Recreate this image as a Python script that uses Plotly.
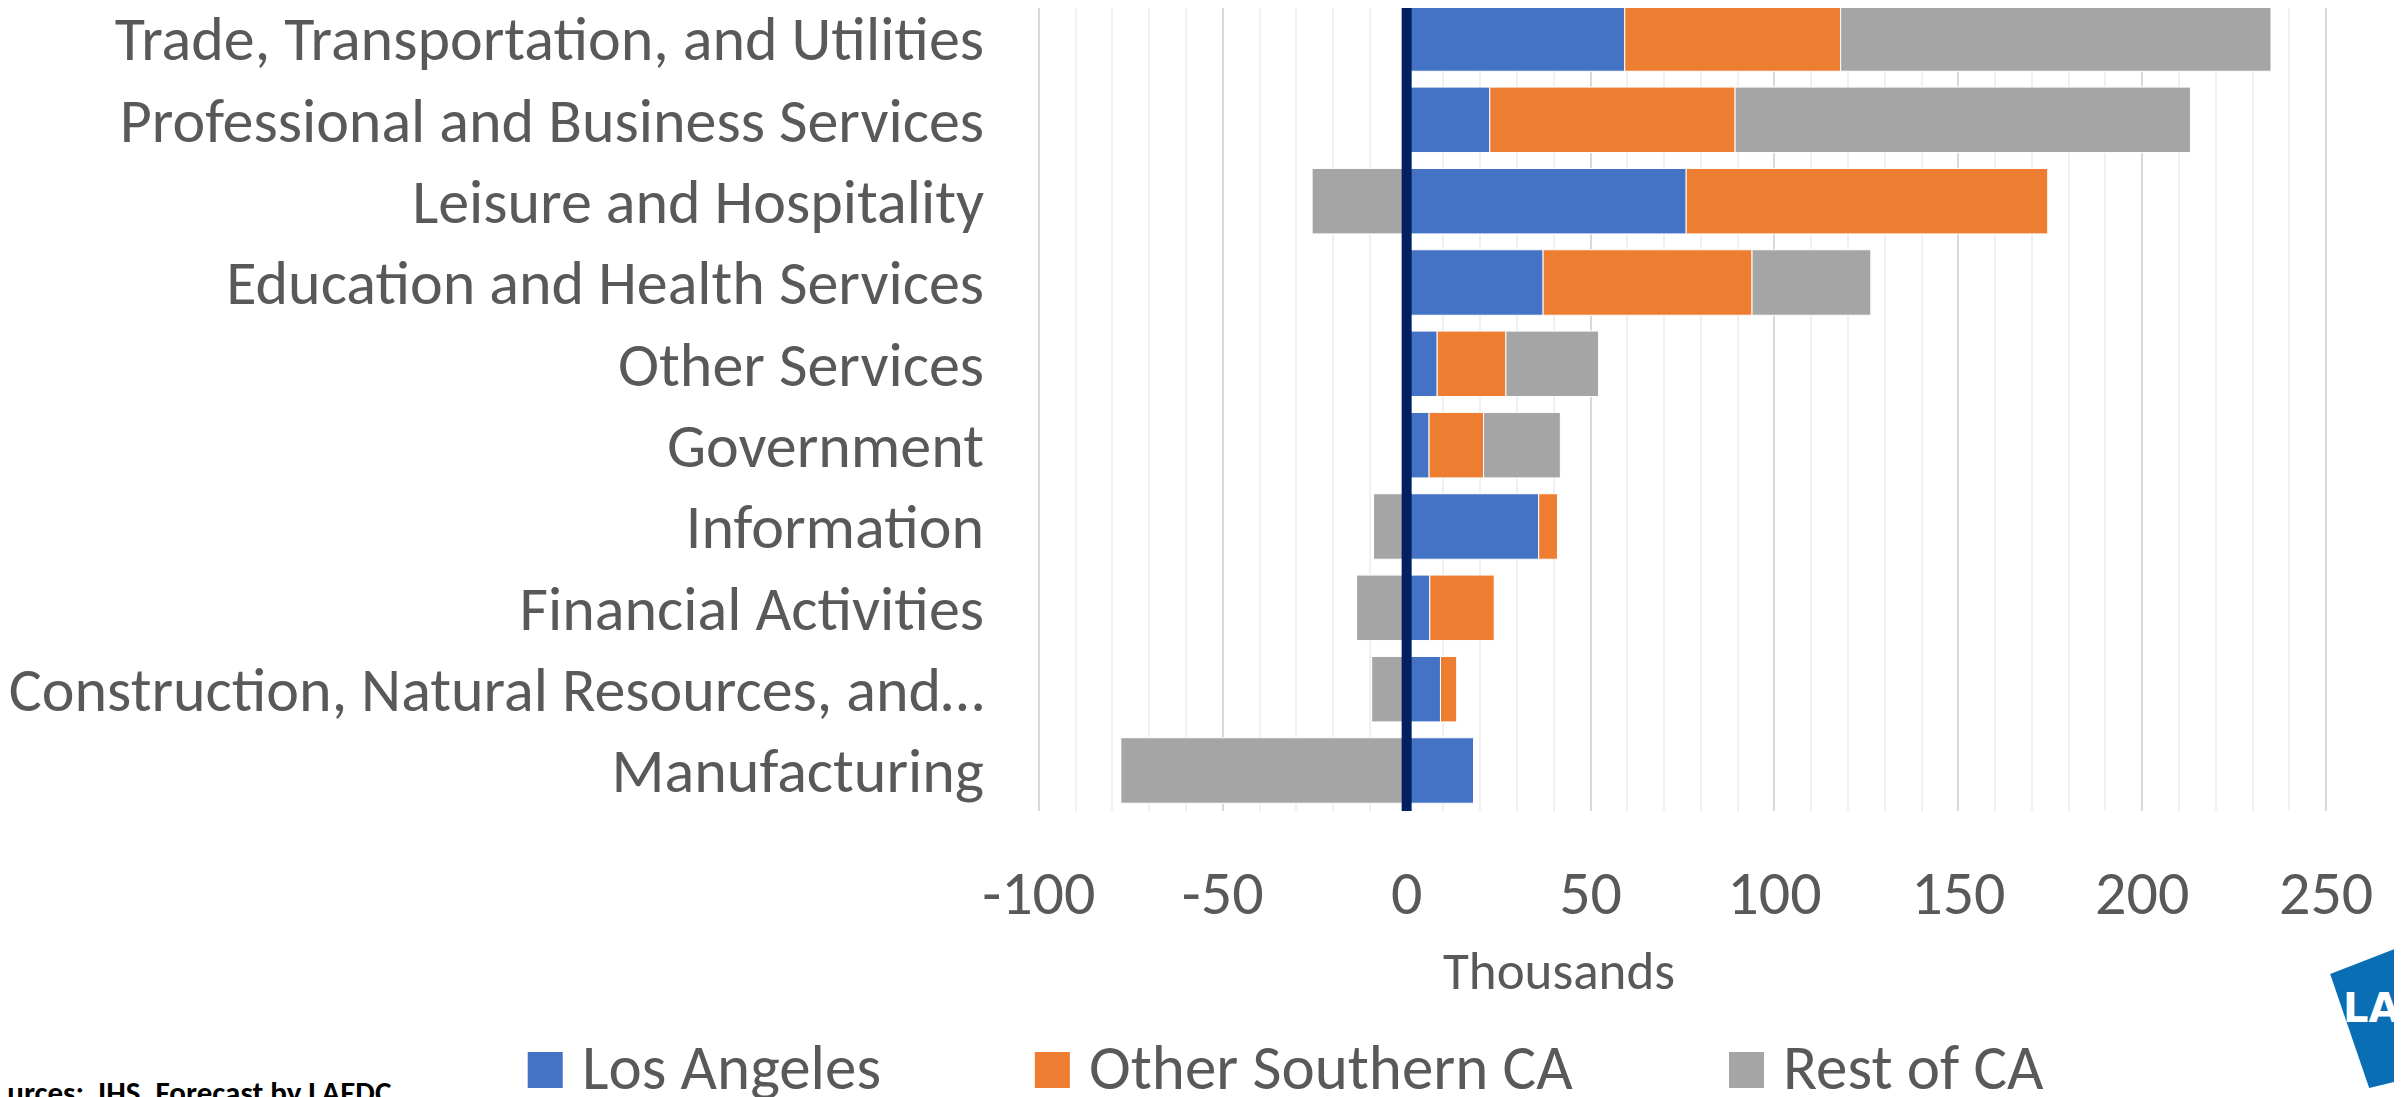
import plotly.graph_objects as go

# ---------------- data ----------------
categories = [
    "Trade, Transportation, and Utilities",
    "Professional and Business Services",
    "Leisure and Hospitality",
    "Education and Health Services",
    "Other Services",
    "Government",
    "Information",
    "Financial Activities",
    "Construction, Natural Resources, and…",
    "Manufacturing",
]
los_angeles = [59.3, 22.6, 76.0, 37.1, 8.3, 6.1, 35.9, 6.3, 9.2, 18.2]
other_southern_ca = [58.7, 66.7, 98.3, 56.8, 18.7, 14.8, 5.1, 17.5, 4.4, 0.0]
rest_of_ca = [117.0, 123.8, -25.7, 32.3, 25.2, 20.9, -9.0, -13.6, -9.5, -77.7]

series_names = ["Los Angeles", "Other Southern CA", "Rest of CA"]
series_values = [los_angeles, other_southern_ca, rest_of_ca]
series_colors = ["#4472C4", "#ED7D31", "#A5A5A5"]

tick_vals = [-100, -50, 0, 50, 100, 150, 200, 250]
tick_text = ["-100", "-50", "0", "50", "100", "150", "200", "250"]
axis_title = "Thousands"
source_text = "Sources:  IHS, Forecast by LAEDC"

# ---------------- layout geometry ----------------
OFF = 8                      # default page body margin
W, H = 2402 - OFF, 1097 - OFF
X_LO, X_HI = -100.5, 250.5
UNIT = 3.678                 # px per thousand
PL = 1039 - OFF - 0.5 * UNIT
PR = 2326 - OFF + 0.5 * UNIT
PT, PB = 0, 811 - OFF
FONT = "Calibri, Carlito, Lato, sans-serif"
GREY_TXT = "#595959"


def px_x(sx):
    return (sx - OFF - PL) / (PR - PL)


def px_y(sy):
    return (PB - (sy - OFF)) / (PB - PT)


fig = go.Figure()
for name, vals, col in zip(series_names, series_values, series_colors):
    fig.add_trace(go.Bar(
        y=categories, x=vals, name=name, orientation="h",
        marker=dict(color=col, line=dict(color="#FFFFFF", width=1)),
        showlegend=False,
    ))

fig.update_layout(
    width=W, height=H, autosize=False,
    margin=dict(l=PL, r=W - PR, t=PT, b=H - PB, pad=0, autoexpand=False),
    paper_bgcolor="white", plot_bgcolor="white",
    barmode="relative", bargap=0.195,
    font=dict(family=FONT, color=GREY_TXT),
    xaxis=dict(
        range=[X_LO, X_HI], tickvals=tick_vals, ticktext=tick_text,
        showgrid=True, gridcolor="#D9D9D9", gridwidth=2,
        minor=dict(dtick=10, showgrid=True, gridcolor="#F0F0F0", gridwidth=2),
        zeroline=False, showline=False, ticks="", automargin=False,
        tickfont=dict(size=62, color=GREY_TXT, family=FONT),
        ticklabelstandoff=40, fixedrange=True,
    ),
    yaxis=dict(
        range=[9.498, -0.375], showgrid=False, zeroline=False, showline=False,
        ticks="", automargin=False,
        tickfont=dict(size=62, color=GREY_TXT, family=FONT),
        ticklabelstandoff=52, fixedrange=True,
    ),
    showlegend=False,
)

# zero line on top of bars
fig.add_shape(type="line", xref="x", yref="paper", x0=0, x1=0, y0=0, y1=1.02,
              line=dict(color="#002060", width=10), layer="above")

# axis title
fig.add_annotation(text=axis_title, xref="paper", yref="paper",
                   x=px_x(1559), y=px_y(971), xanchor="center", yanchor="middle",
                   showarrow=False, font=dict(size=53, color=GREY_TXT, family=FONT))

# legend (drawn as squares + text)
leg_x = [528, 1035, 1729]
for lx, name, col in zip(leg_x, series_names, series_colors):
    fig.add_shape(type="rect", xref="paper", yref="paper",
                  x0=px_x(lx), x1=px_x(lx + 35), y0=px_y(1088), y1=px_y(1052),
                  fillcolor=col, line=dict(width=0), layer="above")
    fig.add_annotation(text=name, xref="paper", yref="paper",
                       x=px_x(lx + 52), y=px_y(1067), xanchor="left", yanchor="middle",
                       showarrow=False, font=dict(size=63, color=GREY_TXT, family=FONT))

# source note (partially cut at the left/bottom edge)
fig.add_annotation(text="<b>" + source_text + "</b>", xref="paper", yref="paper",
                   x=px_x(394), y=px_y(1071), xanchor="right", yanchor="top",
                   showarrow=False, font=dict(size=31, color="#000000", family=FONT))

# LAEDC logo fragment
p = [(2330, 974), (2402, 946), (2402, 1080), (2369, 1088)]
path = "M " + " L ".join(f"{px_x(a):.5f},{px_y(b):.5f}" for a, b in p) + " Z"
fig.add_shape(type="path", xref="paper", yref="paper", path=path,
              fillcolor="#0A6EB5", line=dict(width=0), layer="above")
fig.add_annotation(text="<b>LAEDC</b>", xref="paper", yref="paper",
                   x=px_x(2341), y=px_y(1008), xanchor="left", yanchor="middle",
                   showarrow=False, font=dict(size=40, color="white", family="DejaVu Sans"))

fig.write_html("out.html", config={"displayModeBar": False})
